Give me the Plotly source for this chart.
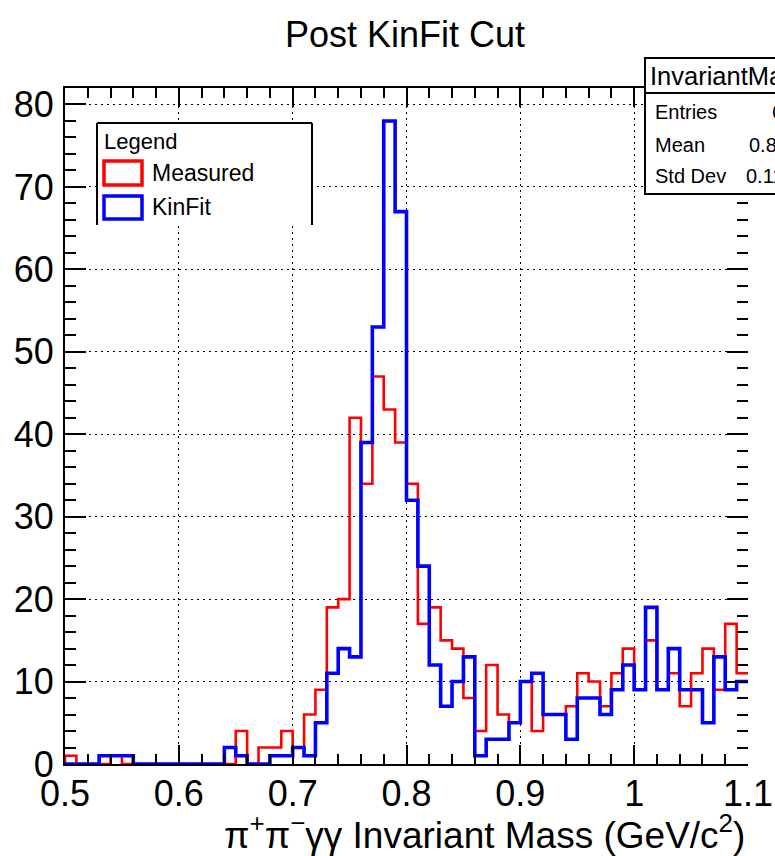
import numpy as np
import plotly.graph_objects as go

# ---------------- data ----------------
bin_start = 0.50
bin_width = 0.01
# 60 bins from 0.50 to 1.10
measured = [1, 0, 0, 0, 1, 0, 0, 0, 0, 0,
            0, 0, 0, 0, 0, 4, 0, 2, 2, 4,
            2, 6, 9, 19, 20, 42, 34, 47, 43, 39,
            34, 17, 19, 15, 14, 8, 4, 12, 6, 5,
            10, 4, 6, 6, 7, 11, 10, 7, 11, 14,
            9, 15, 9, 11, 7, 11, 14, 9, 17, 11]
kinfit = [0, 0, 0, 1, 1, 1, 0, 0, 0, 0,
          0, 0, 0, 0, 2, 1, 0, 0, 1, 1,
          2, 1, 5, 11, 14, 13, 39, 53, 78, 67,
          32, 24, 12, 7, 10, 13, 1, 3, 3, 5,
          10, 11, 6, 6, 3, 8, 8, 6, 9, 12,
          9, 19, 9, 14, 9, 9, 5, 13, 9, 10]
series_names = ["Measured", "KinFit"]
x_tick_vals = [0.5, 0.6, 0.7, 0.8, 0.9, 1.0, 1.1]
x_tick_text = ["0.5", "0.6", "0.7", "0.8", "0.9", "1", "1.1"]
y_tick_vals = [0, 10, 20, 30, 40, 50, 60, 70, 80]
y_tick_text = ["0", "10", "20", "30", "40", "50", "60", "70", "80"]

# ---------------- geometry ----------------
W, H = 775, 856
L, R, T, B = 65, 27, 88, 92
PW, PH = W - L - R, H - T - B
FONT = "Liberation Sans, Arial, Helvetica, sans-serif"


def px(xp):
    return (xp - L) / PW


def py(yp):
    return (H - B - yp) / PH


edges = bin_start + bin_width * np.arange(len(measured) + 1)


def step_xy(vals):
    xs = [edges[0]] + list(edges[:-1]) + [edges[-1]]
    ys = [0] + list(vals) + [vals[-1]]
    return xs, ys


centers = edges[:-1] + bin_width / 2
m_arr = np.array(measured, dtype=float)
stat_entries = int(m_arr.sum())
stat_mean = float((centers * m_arr).sum() / m_arr.sum())
stat_std = float(np.sqrt(((centers - stat_mean) ** 2 * m_arr).sum() / m_arr.sum()))

fig = go.Figure()
for vals, name, color, width in [(measured, series_names[0], "#ff0000", 2.6),
                                 (kinfit, series_names[1], "#0000ff", 3.6)]:
    xs, ys = step_xy(vals)
    fig.add_trace(go.Scatter(x=xs, y=ys, mode="lines", name=name,
                             line=dict(color=color, width=width, shape="hv"),
                             showlegend=False, hoverinfo="skip"))
# empty trace that only carries the right-hand tick axis
fig.add_trace(go.Scatter(x=[], y=[], yaxis="y2", mode="lines", showlegend=False,
                         hoverinfo="skip"))

TICKFONT = dict(family=FONT, size=36, color="black")

fig.update_layout(
    xaxis=dict(range=[0.5, 1.1], tickmode="array", tickvals=x_tick_vals,
               ticktext=x_tick_text, ticklen=19, ticks="inside", tickcolor="black",
               tickwidth=1.5, showline=True, linecolor="black", linewidth=2,
               mirror="ticks", showgrid=True, gridcolor="black", gridwidth=1.3,
               griddash="2px,4px", zeroline=False, tickfont=TICKFONT,
               ticklabelstandoff=-3, automargin=False,
               minor=dict(tickmode="linear", tick0=0.5, dtick=0.02, ticks="inside",
                          ticklen=10, tickwidth=1.5, tickcolor="black", showgrid=False)),
    yaxis=dict(range=[0, 82], tickmode="array", tickvals=y_tick_vals,
               ticktext=y_tick_text, ticklen=21, ticks="inside", tickcolor="black",
               tickwidth=1.5, showline=True, linecolor="black", linewidth=2,
               mirror=False, showgrid=True, gridcolor="black", gridwidth=1.3,
               griddash="2px,4px", zeroline=False, tickfont=TICKFONT,
               ticklabelstandoff=2, automargin=False,
               minor=dict(tickmode="linear", tick0=0, dtick=2, ticks="inside",
                          ticklen=11, tickwidth=1.5, tickcolor="black", showgrid=False)),
    yaxis2=dict(overlaying="y", side="right", matches="y", range=[0, 82],
                tickmode="array", tickvals=y_tick_vals, ticklen=21, ticks="inside",
                tickcolor="black", tickwidth=1.5, showline=False, showgrid=False,
                zeroline=False, showticklabels=False, automargin=False,
                minor=dict(tickmode="linear", tick0=0, dtick=2, ticks="inside",
                           ticklen=11, tickwidth=1.5, tickcolor="black", showgrid=False)),
)

shapes = []
annotations = []

# Legend box (white, three sides drawn)
shapes.append(dict(type="rect", xref="paper", yref="paper", x0=px(97), x1=px(312),
                   y0=py(225), y1=py(123), fillcolor="white", line=dict(width=0), layer="above"))
for (xa, ya, xb, yb) in [(97, 123, 312, 123), (97, 123, 97, 225), (312, 123, 312, 225)]:
    shapes.append(dict(type="line", xref="paper", yref="paper", x0=px(xa), x1=px(xb),
                       y0=py(ya), y1=py(yb), line=dict(color="black", width=2), layer="above"))
shapes.append(dict(type="rect", xref="paper", yref="paper", x0=px(104), x1=px(142),
                   y0=py(185), y1=py(161), line=dict(color="#ff0000", width=3.5), layer="above"))
shapes.append(dict(type="rect", xref="paper", yref="paper", x0=px(104), x1=px(142),
                   y0=py(219), y1=py(196), line=dict(color="#0000ff", width=3.5), layer="above"))
annotations.append(dict(text="Legend", x=px(102), y=py(141), xref="paper", yref="paper",
                        xanchor="left", yanchor="middle", showarrow=False,
                        font=dict(family=FONT, size=22, color="black")))
annotations.append(dict(text=series_names[0], x=px(150), y=py(173), xref="paper", yref="paper",
                        xanchor="left", yanchor="middle", showarrow=False,
                        font=dict(family=FONT, size=23, color="black")))
annotations.append(dict(text=series_names[1], x=px(150), y=py(207), xref="paper", yref="paper",
                        xanchor="left", yanchor="middle", showarrow=False,
                        font=dict(family=FONT, size=23, color="black")))

# Stats box (extends past canvas edge)
shapes.append(dict(type="rect", xref="paper", yref="paper", x0=px(645), x1=px(820),
                   y0=py(194), y1=py(58), fillcolor="white",
                   line=dict(color="black", width=2), layer="above"))
shapes.append(dict(type="line", xref="paper", yref="paper", x0=px(645), x1=px(820),
                   y0=py(93), y1=py(93), line=dict(color="black", width=2), layer="above"))
annotations.append(dict(text="InvariantMass", x=px(648), y=py(76), xref="paper", yref="paper",
                        xanchor="left", yanchor="middle", showarrow=False,
                        font=dict(family=FONT, size=25.5, color="black")))
for label, val, yy, xv in [("Entries", f"{stat_entries}", 112, 770),
                           ("Mean", f"{stat_mean:.4f}", 145, 747),
                           ("Std Dev", f"{stat_std:.4f}", 176, 744)]:
    annotations.append(dict(text=label, x=px(653), y=py(yy), xref="paper", yref="paper",
                            xanchor="left", yanchor="middle", showarrow=False,
                            font=dict(family=FONT, size=20, color="black")))
    annotations.append(dict(text=val, x=px(xv), y=py(yy), xref="paper", yref="paper",
                            xanchor="left", yanchor="middle", showarrow=False,
                            font=dict(family=FONT, size=20, color="black")))

# Title and axis title
annotations.append(dict(text="Post KinFit Cut", x=px(405), y=py(35), xref="paper", yref="paper",
                        xanchor="center", yanchor="middle", showarrow=False,
                        font=dict(family=FONT, size=36, color="black")))
annotations.append(dict(text="π<sup>+</sup>π<sup>−</sup>γγ Invariant Mass (GeV/c<sup>2</sup>)",
                        x=px(747), y=py(832), xref="paper", yref="paper",
                        xanchor="right", yanchor="middle", showarrow=False,
                        font=dict(family=FONT, size=37, color="black")))

fig.update_layout(width=W, height=H, margin=dict(l=L, r=R, t=T, b=B, autoexpand=False),
                  paper_bgcolor="white", plot_bgcolor="white",
                  shapes=shapes, annotations=annotations, showlegend=False)

fig.write_html("out.html")
